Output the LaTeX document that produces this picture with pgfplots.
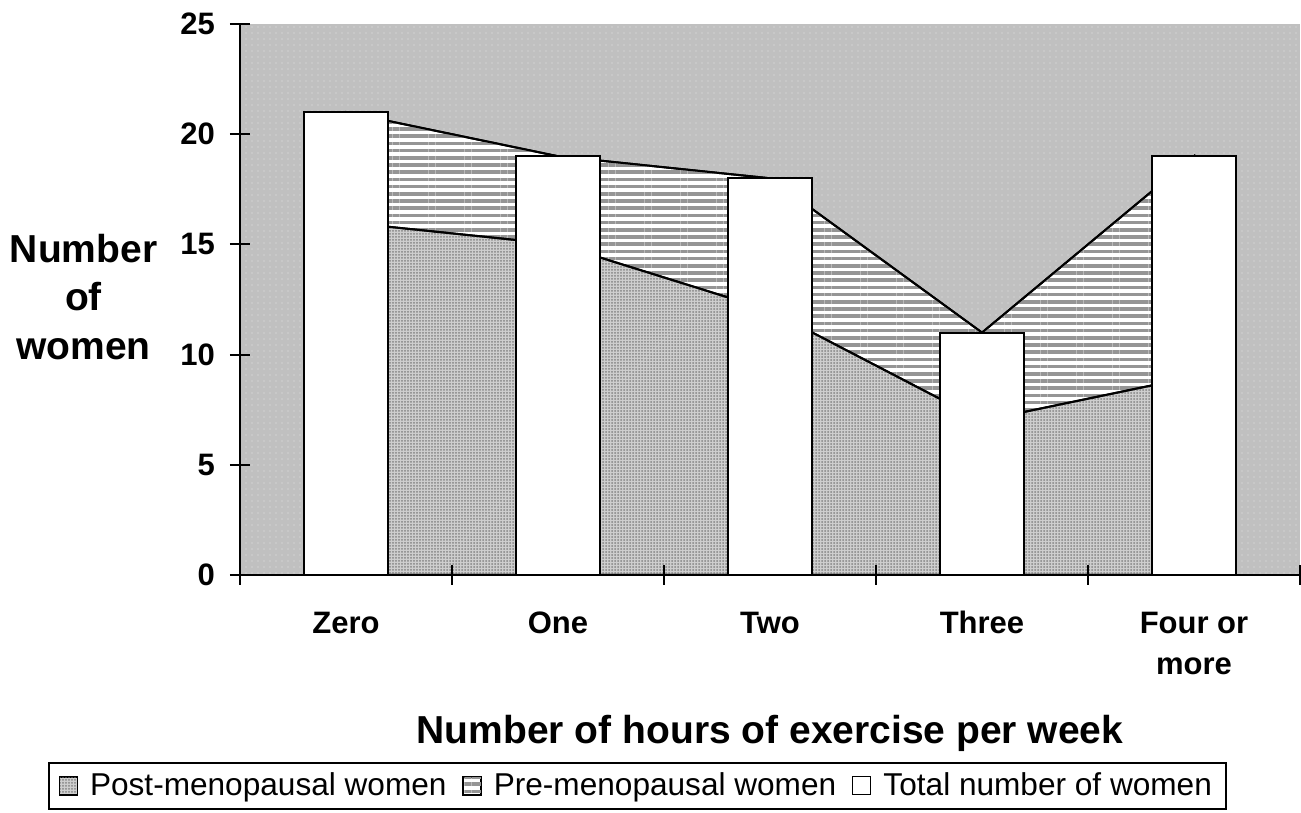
\documentclass[border=0pt]{standalone}
\usepackage{pgfplots}
\pgfplotsset{compat=1.18}
\usepackage{fontspec}
\setmainfont{Liberation Sans}
\usetikzlibrary{patterns.meta}
\definecolor{bgGray}{HTML}{C0C0C0}
\definecolor{bgDot}{HTML}{D2D2D2}
\definecolor{postBase}{HTML}{CFCFCF}
\definecolor{postDot}{HTML}{858585}
\definecolor{preLine}{HTML}{959595}
\tikzset{
  postfill/.style={preaction={fill=postBase}, pattern={Dots[distance=1.5pt,radius=0.5pt]}, pattern color=postDot},
  prefill/.style={preaction={fill=white}, pattern={Lines[angle=0,distance=3.6pt,line width=1.8pt]}, pattern color=preLine},
}
\begin{document}
\begin{tikzpicture}
\useasboundingbox (0,0) rectangle (650.5pt,406.5pt);
\begin{axis}[
  at={(120pt,119pt)}, anchor=south west,
  scale only axis, width=530pt, height=275.5pt,
  xmin=-0.5, xmax=4.5, ymin=0, ymax=25,
  axis on top,
  axis lines*=left,
  axis line style={-, line width=1pt, black},
  axis background/.style={preaction={fill=bgGray}, pattern={Dots[distance=3pt,radius=0.45pt]}, pattern color=bgDot},
  ytick={0,5,10,15,20,25},
  xtick={-0.5,0.5,1.5,2.5,3.5,4.5},
  xticklabels={},
  extra x ticks={0,1,2,3,4},
  extra x tick labels={\strut Zero,\strut One,\strut Two,\strut Three,{\strut Four or\\more}},
  extra x tick style={major tick length=0pt},
  tick align=center,
  major tick length=10pt,
  tick style={line width=1pt, black},
  /pgf/number format/assume math mode=true,
  ticklabel style={font=\fontsize{15.5}{20.5}\selectfont\bfseries},
  xticklabel style={anchor=north, align=center, yshift=-11.25pt},
  yticklabel style={anchor=east, xshift=-4pt},
  ylabel={Number\\of\\women},
  every axis y label/.style={at={(axis description cs:-0.1476,0.505)}, anchor=center, align=center, font=\fontsize{19.5}{24.25}\selectfont\bfseries},
  xlabel={Number of hours of exercise per week},
  every axis x label/.style={at={(axis description cs:0.5,-0.3067)}, anchor=base, font=\fontsize{19.5}{24}\selectfont\bfseries},
  legend columns=3,
  legend style={at={(axis description cs:-0.1811,-0.3394)}, anchor=north west,
    draw=black, line width=0.8pt, fill=white,
    font=\fontsize{15.8}{18}\selectfont,
    inner xsep=5pt, inner ysep=3pt,
    /tikz/every odd column/.append style={column sep=4pt},
    /tikz/every even column/.append style={column sep=6pt}},
  legend image code/.code={\draw[#1, line width=0.6pt, draw=black] (0pt,-4.5pt) rectangle (9pt,4.5pt);},
]
\addlegendimage{postfill}
\addlegendentry{Post-menopausal women}
\addlegendimage{prefill}
\addlegendentry{Pre-menopausal women}
\addlegendimage{fill=white}
\addlegendentry{Total number of women\hspace{5pt}}

% top of stacked area (post + pre)
\addplot[forget plot, prefill, draw=black, line width=1pt] coordinates {(0,21) (1,19) (2,18) (3,11) (4,19)} \closedcycle;
% post-menopausal
\addplot[forget plot, postfill, draw=black, line width=1pt] coordinates {(0,16) (1,15) (2,12) (3,7) (4,9)} \closedcycle;
% total bars
\addplot[forget plot, ybar, bar width=42pt, bar shift=0pt, fill=white, draw=black, line width=1pt] coordinates {(0,21) (1,19) (2,18) (3,11) (4,19)};
\end{axis}
\end{tikzpicture}
\end{document}
